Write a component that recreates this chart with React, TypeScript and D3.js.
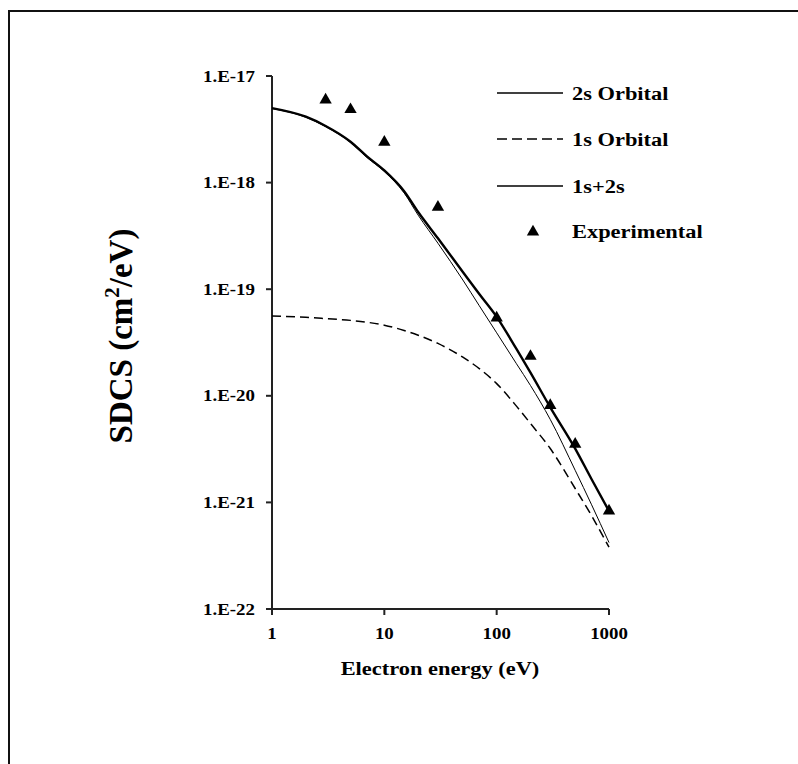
import React from "react";
import * as d3 from "d3";

const energies = [1, 2, 3, 5, 7, 10, 15, 20, 30, 50, 70, 100, 150, 200, 300, 500, 700, 1000];
const orbital2s = [4.95e-18, 4.1e-18, 3.35e-18, 2.38e-18, 1.72e-18, 1.27e-18, 8.0e-19, 4.95e-19, 2.7e-19, 1.22e-19, 7.0e-20, 3.9e-20, 2.0e-20, 1.25e-20, 6.0e-21, 2.0e-21, 9.5e-22, 4.2e-22];
const orbital1s = [5.6e-20, 5.45e-20, 5.3e-20, 5.1e-20, 4.9e-20, 4.6e-20, 4.1e-20, 3.7e-20, 3.1e-20, 2.3e-20, 1.8e-20, 1.3e-20, 8.0e-21, 5.5e-21, 3.2e-21, 1.35e-21, 7.5e-22, 3.8e-22];
const orbitalSum = [5.0e-18, 4.15e-18, 3.4e-18, 2.42e-18, 1.76e-18, 1.3e-18, 8.3e-19, 5.3e-19, 3.0e-19, 1.45e-19, 9.0e-20, 5.5e-20, 2.75e-20, 1.65e-20, 7.8e-21, 3.2e-21, 1.65e-21, 8.3e-22];
const expEnergies = [3, 5, 10, 30, 100, 200, 300, 500, 1000];
const expValues = [6.1e-18, 4.95e-18, 2.45e-18, 6.0e-19, 5.5e-20, 2.4e-20, 8.3e-21, 3.6e-21, 8.5e-22];
const xTicks = [1, 10, 100, 1000];
const yTicks = [1e-22, 1e-21, 1e-20, 1e-19, 1e-18, 1e-17];
const yTickLabels = ["1.E-22", "1.E-21", "1.E-20", "1.E-19", "1.E-18", "1.E-17"];
const legendLabels = ["2s Orbital", "1s Orbital", "1s+2s", "Experimental"];

const FONT = "'Times New Roman', 'Liberation Serif', Times, serif";
const SX = 1.18;

export default function App() {
  const x = d3.scaleLog().domain([1, 1000]).range([272, 609]);
  const y = d3.scaleLog().domain([1e-22, 1e-17]).range([609, 76]);
  const line = d3
    .line<[number, number]>()
    .x((d) => x(d[0]))
    .y((d) => y(d[1]))
    .curve(d3.curveMonotoneX);
  const pts = (vals: number[]) => energies.map((e, i) => [e, vals[i]] as [number, number]);
  const tri = d3.symbol().type(d3.symbolTriangle).size(66)() as string;

  const legY = [93, 139, 186, 231];

  return (
    <svg width={798} height={764} style={{ position: "absolute", left: 0, top: 0, background: "#fff" }}>
      <rect x={9} y={11} width={820} height={800} fill="none" stroke="#111" strokeWidth={2} />

      {/* axes */}
      <line x1={x(1)} x2={x(1)} y1={y(1e-17)} y2={y(1e-22)} stroke="#222" strokeWidth={2} />
      <line x1={x(1)} x2={x(1000)} y1={y(1e-22)} y2={y(1e-22)} stroke="#222" strokeWidth={2} />
      {yTicks.map((t, i) => (
        <g key={"yt" + i}>
          <line x1={x(1) - 6} x2={x(1)} y1={y(t)} y2={y(t)} stroke="#222" strokeWidth={2} />
          <text
            transform={`translate(${255},${y(t) + 5.5}) scale(${SX},1)`}
            textAnchor="end"
            fontFamily={FONT}
            fontWeight="bold"
            fontSize={16}
          >
            {yTickLabels[i]}
          </text>
        </g>
      ))}
      {xTicks.map((t, i) => (
        <g key={"xt" + i}>
          <line x1={x(t)} x2={x(t)} y1={y(1e-22)} y2={y(1e-22) + 6} stroke="#222" strokeWidth={2} />
          <text
            transform={`translate(${x(t)},${639}) scale(${SX},1)`}
            textAnchor="middle"
            fontFamily={FONT}
            fontWeight="bold"
            fontSize={16}
          >
            {String(t)}
          </text>
        </g>
      ))}
      <text
        transform={`translate(440,675) scale(${SX},1)`}
        textAnchor="middle"
        fontFamily={FONT}
        fontWeight="bold"
        fontSize={19}
      >
        Electron energy (eV)
      </text>
      <text
        transform={`translate(132,336) rotate(-90)`}
        textAnchor="middle"
        fontFamily={FONT}
        fontWeight="bold"
        fontSize={33}
      >
        SDCS (cm
        <tspan fontSize={21} dy={-13}>2</tspan>
        <tspan dy={13}>/eV)</tspan>
      </text>

      {/* curves */}
      <path d={line(pts(orbital1s)) as string} fill="none" stroke="#000" strokeWidth={1.5} strokeDasharray="9,5" />
      <path d={line(pts(orbital2s)) as string} fill="none" stroke="#000" strokeWidth={1} />
      <path d={line(pts(orbitalSum)) as string} fill="none" stroke="#000" strokeWidth={2.4} />
      {expEnergies.map((e, i) => (
        <path key={"e" + i} d={tri} transform={`translate(${x(e)},${y(expValues[i]) + 1})`} fill="#000" />
      ))}

      {/* legend */}
      {legendLabels.map((lab, i) => (
        <g key={"l" + i}>
          {i === 3 ? (
            <path d={tri} transform={`translate(533,${legY[i] + 1})`} fill="#000" />
          ) : (
            <line
              x1={497}
              x2={563}
              y1={legY[i]}
              y2={legY[i]}
              stroke="#000"
              strokeWidth={1.4}
              strokeDasharray={i === 1 ? "10,5" : undefined}
            />
          )}
          <text
            transform={`translate(572,${legY[i] + 6.5}) scale(${SX},1)`}
            fontFamily={FONT}
            fontWeight="bold"
            fontSize={19}
          >
            {lab}
          </text>
        </g>
      ))}
    </svg>
  );
}
